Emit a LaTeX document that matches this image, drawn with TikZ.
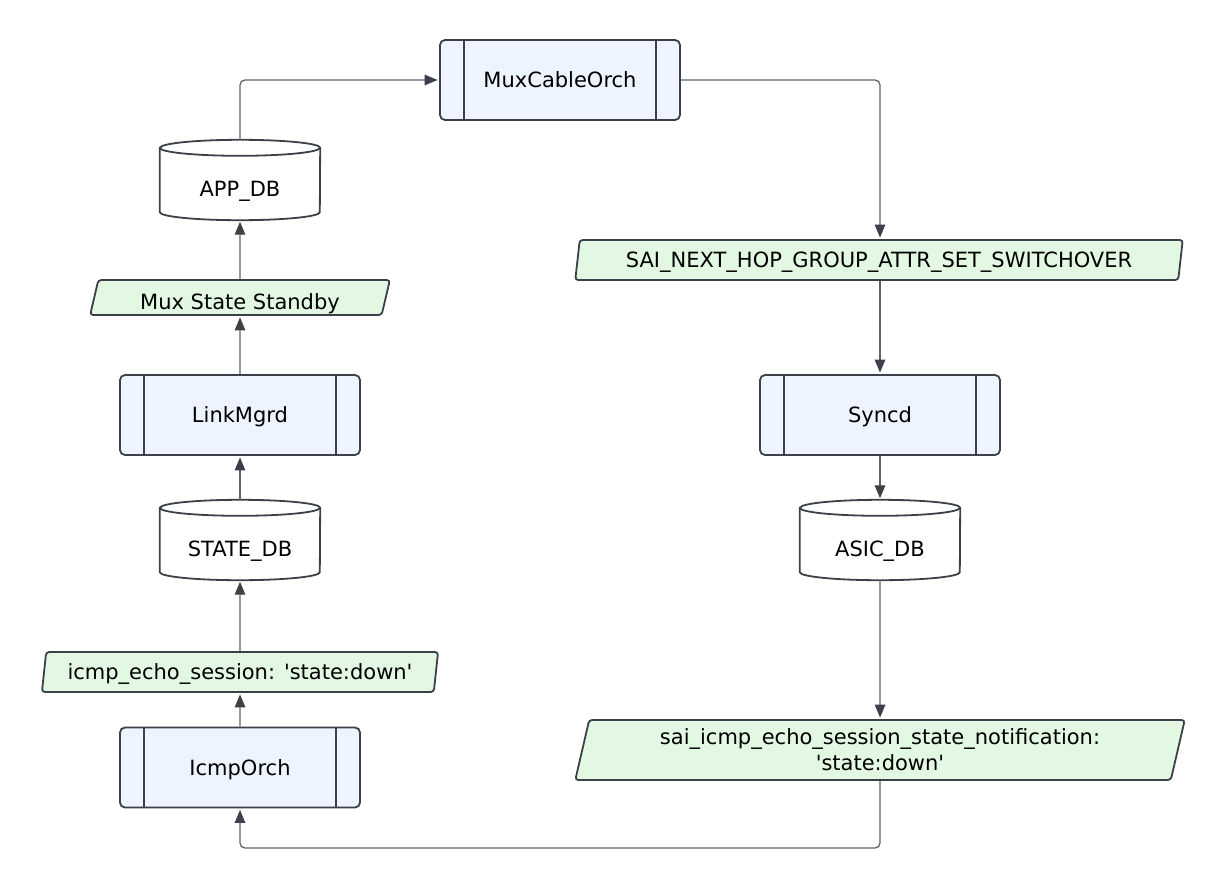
\documentclass[tikz,border=0pt]{standalone}
\usepackage{fontspec}
\setmainfont{DejaVu Sans}
\usetikzlibrary{shapes.geometric,arrows.meta,calc}
\definecolor{strk}{HTML}{3C4049}
\definecolor{procfill}{HTML}{EDF4FF}
\definecolor{parafill}{HTML}{E2F8E2}
\definecolor{conn}{HTML}{60656C}
\newcommand\sq{\textquotesingle}
\tikzset{
  base/.style={font=\fontsize{21}{26}\selectfont, text=black, inner sep=0pt},
  proc/.style={base, rectangle, draw=strk, fill=procfill, line width=1.8pt,
    rounded corners=5pt, minimum width=240pt, minimum height=80pt,
    text height=15.3pt, text depth=0pt,
    path picture={
      \draw[strk, line width=1.8pt]
        ([xshift=24pt]path picture bounding box.north west) --
        ([xshift=24pt]path picture bounding box.south west);
      \draw[strk, line width=1.8pt]
        ([xshift=-24pt]path picture bounding box.north east) --
        ([xshift=-24pt]path picture bounding box.south east);}},
  dbnode/.style={base, rectangle, draw=none, minimum width=160pt, minimum height=80pt,
    text height=33.3pt, text depth=0pt},
  dbline/.style={draw=strk, fill=white, line width=1.8pt},
  para/.style={base, trapezium, trapezium left angle=76, trapezium right angle=104,
    trapezium stretches=true, draw=strk, fill=parafill, line width=1.8pt,
    rounded corners=3pt, minimum height=40pt, text height=15.3pt, text depth=0pt},
  link/.style={draw=conn, line width=1.3pt, rounded corners=5pt,
    -{Triangle[length=13pt,width=10.5pt,fill=strk,color=strk]}, shorten >=1.5pt},
}
\newcommand\dbdraw[1]{%
  \draw[dbline] ([yshift=-8pt]#1.north west) -- ([yshift=8pt]#1.south west)
    arc[start angle=180, end angle=360, x radius=80pt, y radius=8pt]
    -- ([yshift=-8pt]#1.north east)
    arc[start angle=0, end angle=180, x radius=80pt, y radius=8pt] -- cycle;
  \draw[strk, line width=1.8pt] ([yshift=-8pt]#1.north west)
    arc[start angle=180, end angle=360, x radius=80pt, y radius=8pt];}
\begin{document}
\begin{tikzpicture}[x=1pt, y=-1pt]
\useasboundingbox[fill=white] (0,0) rectangle (1226,889);

% nodes
\node[proc] (mux) at (560,80) {MuxCableOrch};
\node[dbnode] (appdb) at (240,180) {};
\dbdraw{appdb}
\node[dbnode] at (appdb.center) {APP\_DB};
\node[para, minimum width=300pt, minimum height=35pt, text height=23.3pt] (mss) at (240,297.5) {Mux State Standby};
\node[proc] (link) at (240,415) {LinkMgrd};
\node[dbnode] (statedb) at (240,540) {};
\dbdraw{statedb}
\node[dbnode] at (statedb.center) {STATE\_DB};
\node[para, minimum width=398pt] (sess) at (240,672) {icmp\_echo\_session: \sq state:down\sq};
\node[proc] (icmp) at (240,767.5) {IcmpOrch};

\node[para, minimum width=610pt] (sai) at (879,260) {SAI\_NEXT\_HOP\_GROUP\_ATTR\_SET\_SWITCHOVER};
\node[proc] (syncd) at (880,415) {Syncd};
\node[dbnode] (asicdb) at (880,540) {};
\dbdraw{asicdb}
\node[dbnode] at (asicdb.center) {ASIC\_DB};
\node[para, minimum width=610pt, minimum height=60pt, text height=, text depth=, align=center] (notif) at (880,750)
  {sai\_icmp\_echo\_session\_state\_notification:\\\sq state:down\sq};

\coordinate (c1) at (240,80);
\coordinate (c2) at (880,80);
\coordinate (c3) at (880,848);
\coordinate (c4) at (240,848);

% connectors
\draw[link] (appdb.north) -- (c1) -- (mux.west);
\draw[link] (mux.east) -- (c2) -- (sai.north -| c2);
\draw[link] (mss.north) -- (appdb.south);
\draw[link] (link.north) -- (mss.south);
\draw[link] (statedb.north) -- (link.south);
\draw[link] (sess.north) -- (statedb.south);
\draw[link] (icmp.north) -- (sess.south);
\draw[link] (sai.south -| syncd.north) -- (syncd.north);
\draw[link] (syncd.south) -- (asicdb.north);
\draw[link] (asicdb.south) -- (notif.north);
\draw[link] (notif.south) -- (c3) -- (c4) -- (icmp.south);
\end{tikzpicture}
\end{document}
